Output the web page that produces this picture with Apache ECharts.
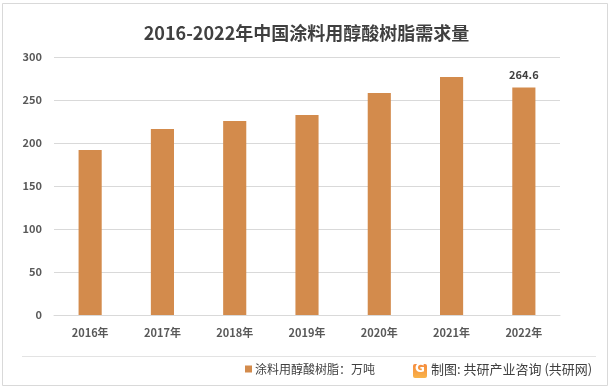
<!DOCTYPE html>
<html>
<head>
<meta charset="utf-8">
<script src="https://cdn.jsdelivr.net/npm/echarts@6/dist/echarts.min.js"></script>
<style>
html,body{margin:0;padding:0;background:#fff;}
#c{width:613px;height:389px;}
</style>
</head>
<body>
<div id="c"></div>
<script>
const titleText = '2016-2022年中国涂料用醇酸树脂需求量';
const categories = ['2016年','2017年','2018年','2019年','2020年','2021年','2022年'];
const seriesName = '涂料用醇酸树脂：万吨';
const values = [192, 216.3, 225.6, 232.6, 258.1, 276.7, 264.6];
const labelIndex = 6;
const yTicks = [0, 50, 100, 150, 200, 250, 300];
const sourceText = '制图: 共研产业咨询 (共研网)';

const font = '"Noto Sans CJK SC", "Noto Sans", sans-serif';
const chart = echarts.init(document.getElementById('c'), null, {renderer: 'canvas'});
chart.setOption({
  backgroundColor: '#fff',
  animation: false,
  title: {
    text: titleText,
    left: 'center',
    top: 19,
    textStyle: {fontFamily: font, fontSize: 18, fontWeight: 'bold', color: '#404040'}
  },
  grid: {left: 54, right: 53, top: 57, bottom: 74},
  legend: {
    data: [seriesName],
    left: 240,
    top: 358,
    icon: 'rect',
    itemWidth: 7,
    itemHeight: 7,
    itemGap: 4,
    textStyle: {fontFamily: font, fontSize: 12, color: '#404040', padding: [0,0,0,-2]}
  },
  xAxis: {
    type: 'category',
    data: categories,
    axisLine: {lineStyle: {color: '#D9D9D9'}},
    axisTick: {show: false},
    axisLabel: {fontFamily: font, fontSize: 11, fontWeight: 'bold', color: '#595959', margin: 12}
  },
  yAxis: {
    type: 'value',
    min: yTicks[0],
    max: yTicks[yTicks.length-1],
    interval: yTicks[1]-yTicks[0],
    axisLine: {show: false},
    axisTick: {show: false},
    splitLine: {lineStyle: {color: '#D9D9D9'}},
    axisLabel: {fontFamily: font, fontSize: 11, fontWeight: 'bold', color: '#595959', margin: 12}
  },
  series: [{
    name: seriesName,
    type: 'bar',
    barWidth: '32%',
    itemStyle: {color: '#D38B4C'},
    data: values.map((v, i) => i === labelIndex ? {
      value: v,
      label: {show: true, position: 'top', distance: 7, fontFamily: font, fontSize: 11, fontWeight: 'bold', color: '#404040'}
    } : v)
  }],
  graphic: [
    {type: 'rect', shape: {x: 2.5, y: 3.5, width: 605, height: 382}, style: {fill: 'none', stroke: '#D9D9D9', lineWidth: 1}, silent: true},
    {type: 'line', shape: {x1: 22, y1: 356.5, x2: 596, y2: 356.5}, style: {stroke: '#E3E3E3', lineWidth: 1}},
    {type: 'rect', shape: {x: 413, y: 364, width: 14, height: 14, r: 2},
      style: {fill: new echarts.graphic.LinearGradient(0, 0, 0, 1, [{offset: 0, color: '#F58A3C'}, {offset: 1, color: '#F9B44A'}])}},
    {type: 'text', left: 415, top: 363, style: {text: 'G', fontFamily: 'DejaVu Sans', fontWeight: 'bold', fontSize: 12, fill: '#fff'}},
    {type: 'text', left: 431, top: 363, style: {text: sourceText, fontFamily: font, fontSize: 13, fill: '#404040'}}
  ]
});
</script>
</body>
</html>
